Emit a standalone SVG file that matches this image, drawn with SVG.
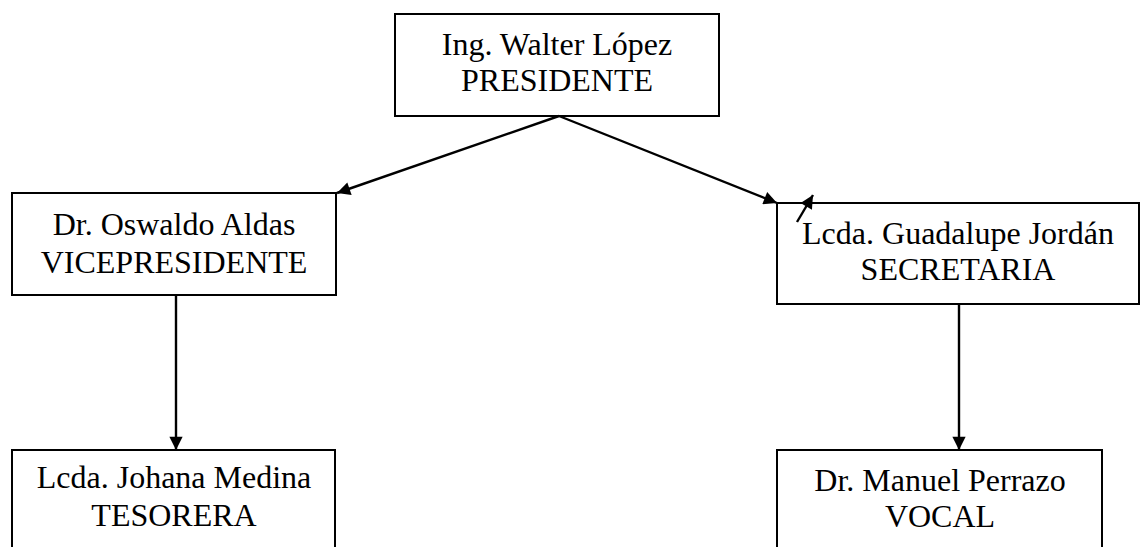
<svg xmlns="http://www.w3.org/2000/svg" width="1144" height="547" viewBox="0 0 1144 547">
<style>
.box{fill:#fff;stroke:#000;stroke-width:2}
.t{font-family:"Liberation Serif","Times New Roman",serif;font-size:32px;fill:#000;text-anchor:middle}
.c{stroke:#000;stroke-width:2.4;fill:none;marker-end:url(#ah)}
</style>
<defs>
<marker id="ah" viewBox="0 0 10 10" refX="10" refY="5" markerWidth="7" markerHeight="5.5" markerUnits="strokeWidth" orient="auto">
<path d="M0,0 L10,5 L0,10 z" fill="#000"/>
</marker>
</defs>
<rect width="1144" height="547" fill="#fff"/>
<g id="presidente">
<rect class="box" x="395" y="14" width="324" height="102"/>
<text class="t" x="557" y="55">Ing. Walter López</text>
<text class="t" x="557" y="91">PRESIDENTE</text>
</g>
<g id="vicepresidente">
<rect class="box" x="12" y="193" width="324" height="102"/>
<text class="t" x="174" y="235">Dr. Oswaldo Aldas</text>
<text class="t" x="174" y="273">VICEPRESIDENTE</text>
</g>
<g id="secretaria">
<rect class="box" x="777" y="203" width="362" height="101"/>
<text class="t" x="958" y="244">Lcda. Guadalupe Jordán</text>
<text class="t" x="958" y="280">SECRETARIA</text>
</g>
<g id="tesorera">
<rect class="box" x="12" y="450" width="323" height="110"/>
<text class="t" x="174" y="488">Lcda. Johana Medina</text>
<text class="t" x="174" y="526">TESORERA</text>
</g>
<g id="vocal">
<rect class="box" x="777" y="450" width="325" height="110"/>
<text class="t" x="940" y="491">Dr. Manuel Perrazo</text>
<text class="t" x="940" y="527">VOCAL</text>
</g>
<g id="connectors">
<line class="c" x1="559" y1="116" x2="337" y2="193"/>
<line class="c" x1="559" y1="116" x2="777" y2="203"/>
<line class="c" x1="797" y1="222" x2="813" y2="195"/>
<line class="c" x1="176" y1="295" x2="176" y2="450"/>
<line class="c" x1="959" y1="304" x2="959" y2="450"/>
</g>
</svg>
